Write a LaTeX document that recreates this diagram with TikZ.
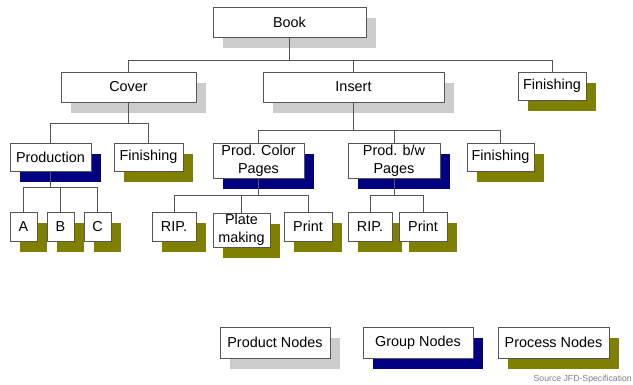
\documentclass[tikz,border=0pt]{standalone}
\usepackage{fontspec}
\setmainfont{Liberation Sans}
\usetikzlibrary{shadows}

\definecolor{shadegray}{RGB}{204,204,204}
\definecolor{groupblue}{RGB}{0,0,128}
\definecolor{processolive}{RGB}{128,128,0}
\definecolor{edgegray}{RGB}{85,85,85}

\tikzset{
  box/.style={draw=edgegray, fill=white, line width=0.9pt, inner sep=0pt,
    align=center, font=\fontsize{14.4}{18}\selectfont},
  productbox/.style={box, general shadow={shadow xshift=10pt, shadow yshift=-11pt, fill=shadegray}},
  groupbox/.style={box, general shadow={shadow xshift=10pt, shadow yshift=-11pt, fill=groupblue}},
  processbox/.style={box, general shadow={shadow xshift=10pt, shadow yshift=-11pt, fill=processolive}},
  link/.style={draw=edgegray, line width=0.9pt}
}

\begin{document}
\begin{tikzpicture}[x=1pt, y=-1pt]
  \useasboundingbox (0,0) rectangle (633,385);

  % products
  \node[productbox, minimum width=153pt, minimum height=30pt] (book) at (289.5,22) {Book};
  \node[productbox, minimum width=135pt, minimum height=30pt] (cover) at (128.5,87) {Cover};
  \node[productbox, minimum width=181pt, minimum height=30pt] (insert) at (353.5,87) {Insert};

  % groups
  \node[groupbox, minimum width=81pt, minimum height=28pt] (production) at (50.5,157) {Production};
  \node[groupbox, minimum width=91pt, minimum height=35pt] (colorpages) at (258.5,160.5) {Prod. Color\\Pages};
  \node[groupbox, minimum width=92pt, minimum height=35pt] (bwpages) at (394,160.5) {Prod. b/w\\Pages};

  % processes
  \node[processbox, minimum width=68pt, minimum height=28pt] (bookfinish) at (552,86) {Finishing};
  \node[processbox, minimum width=69pt, minimum height=28pt] (coverfinish) at (148.5,157) {Finishing};
  \node[processbox, minimum width=67pt, minimum height=28pt] (insertfinish) at (500.5,157) {Finishing};
  \node[processbox, minimum width=27pt, minimum height=29pt] (a) at (23.5,226.5) {A};
  \node[processbox, minimum width=27pt, minimum height=29pt] (b) at (60.5,226.5) {B};
  \node[processbox, minimum width=27pt, minimum height=29pt] (c) at (97.5,226.5) {C};
  \node[processbox, minimum width=44pt, minimum height=29pt] (colorrip) at (174,226.5) {RIP.};
  \node[processbox, minimum width=57pt, minimum height=34pt] (platemaking) at (241.5,230) {Plate\\making};
  \node[processbox, minimum width=48pt, minimum height=29pt] (colorprint) at (308,226.5) {Print};
  \node[processbox, minimum width=44pt, minimum height=29pt] (bwrip) at (370,226.5) {RIP.};
  \node[processbox, minimum width=48pt, minimum height=29pt] (bwprint) at (423,226.5) {Print};

  % tree lines
  \draw[link] (book.south) -- ++(0,23) -| (cover.north);
  \draw[link] (book.south) -- ++(0,23) -| (insert.north);
  \draw[link] (book.south) -- ++(0,23) -| (bookfinish.north);
  \draw[link] (cover.south) -- ++(0,21) -| (production.north);
  \draw[link] (cover.south) -- ++(0,21) -| (coverfinish.north);
  \draw[link] (insert.south) -- ++(0,28) -| (colorpages.north);
  \draw[link] (insert.south) -- ++(0,28) -| (bwpages.north);
  \draw[link] (insert.south) -- ++(0,28) -| (insertfinish.north);
  \draw[link] (production.south) -- ++(0,16) -| (a.north);
  \draw[link] (production.south) -- ++(0,16) -| (b.north);
  \draw[link] (production.south) -- ++(0,16) -| (c.north);
  \draw[link] (colorpages.south) -- ++(0,17) -| (colorrip.north);
  \draw[link] (colorpages.south) -- ++(0,17) -| (platemaking.north);
  \draw[link] (colorpages.south) -- ++(0,17) -| (colorprint.north);
  \draw[link] (bwpages.south) -- ++(0,17) -| (bwrip.north);
  \draw[link] (bwpages.south) -- ++(0,17) -| (bwprint.north);

  % legend
  \node[productbox, minimum width=110pt, minimum height=31pt] (productkey) at (275,342.5) {Product Nodes};
  \node[groupbox, minimum width=110pt, minimum height=31pt] (groupkey) at (418,342.5) {Group Nodes};
  \node[processbox, minimum width=111pt, minimum height=31pt] (processkey) at (553.5,342.5) {Process Nodes};
  \node[anchor=east, text=gray, font=\fontsize{8.7}{10}\selectfont, inner sep=0pt] (source) at (632,379) {Source JFD-Specification};
\end{tikzpicture}
\end{document}
